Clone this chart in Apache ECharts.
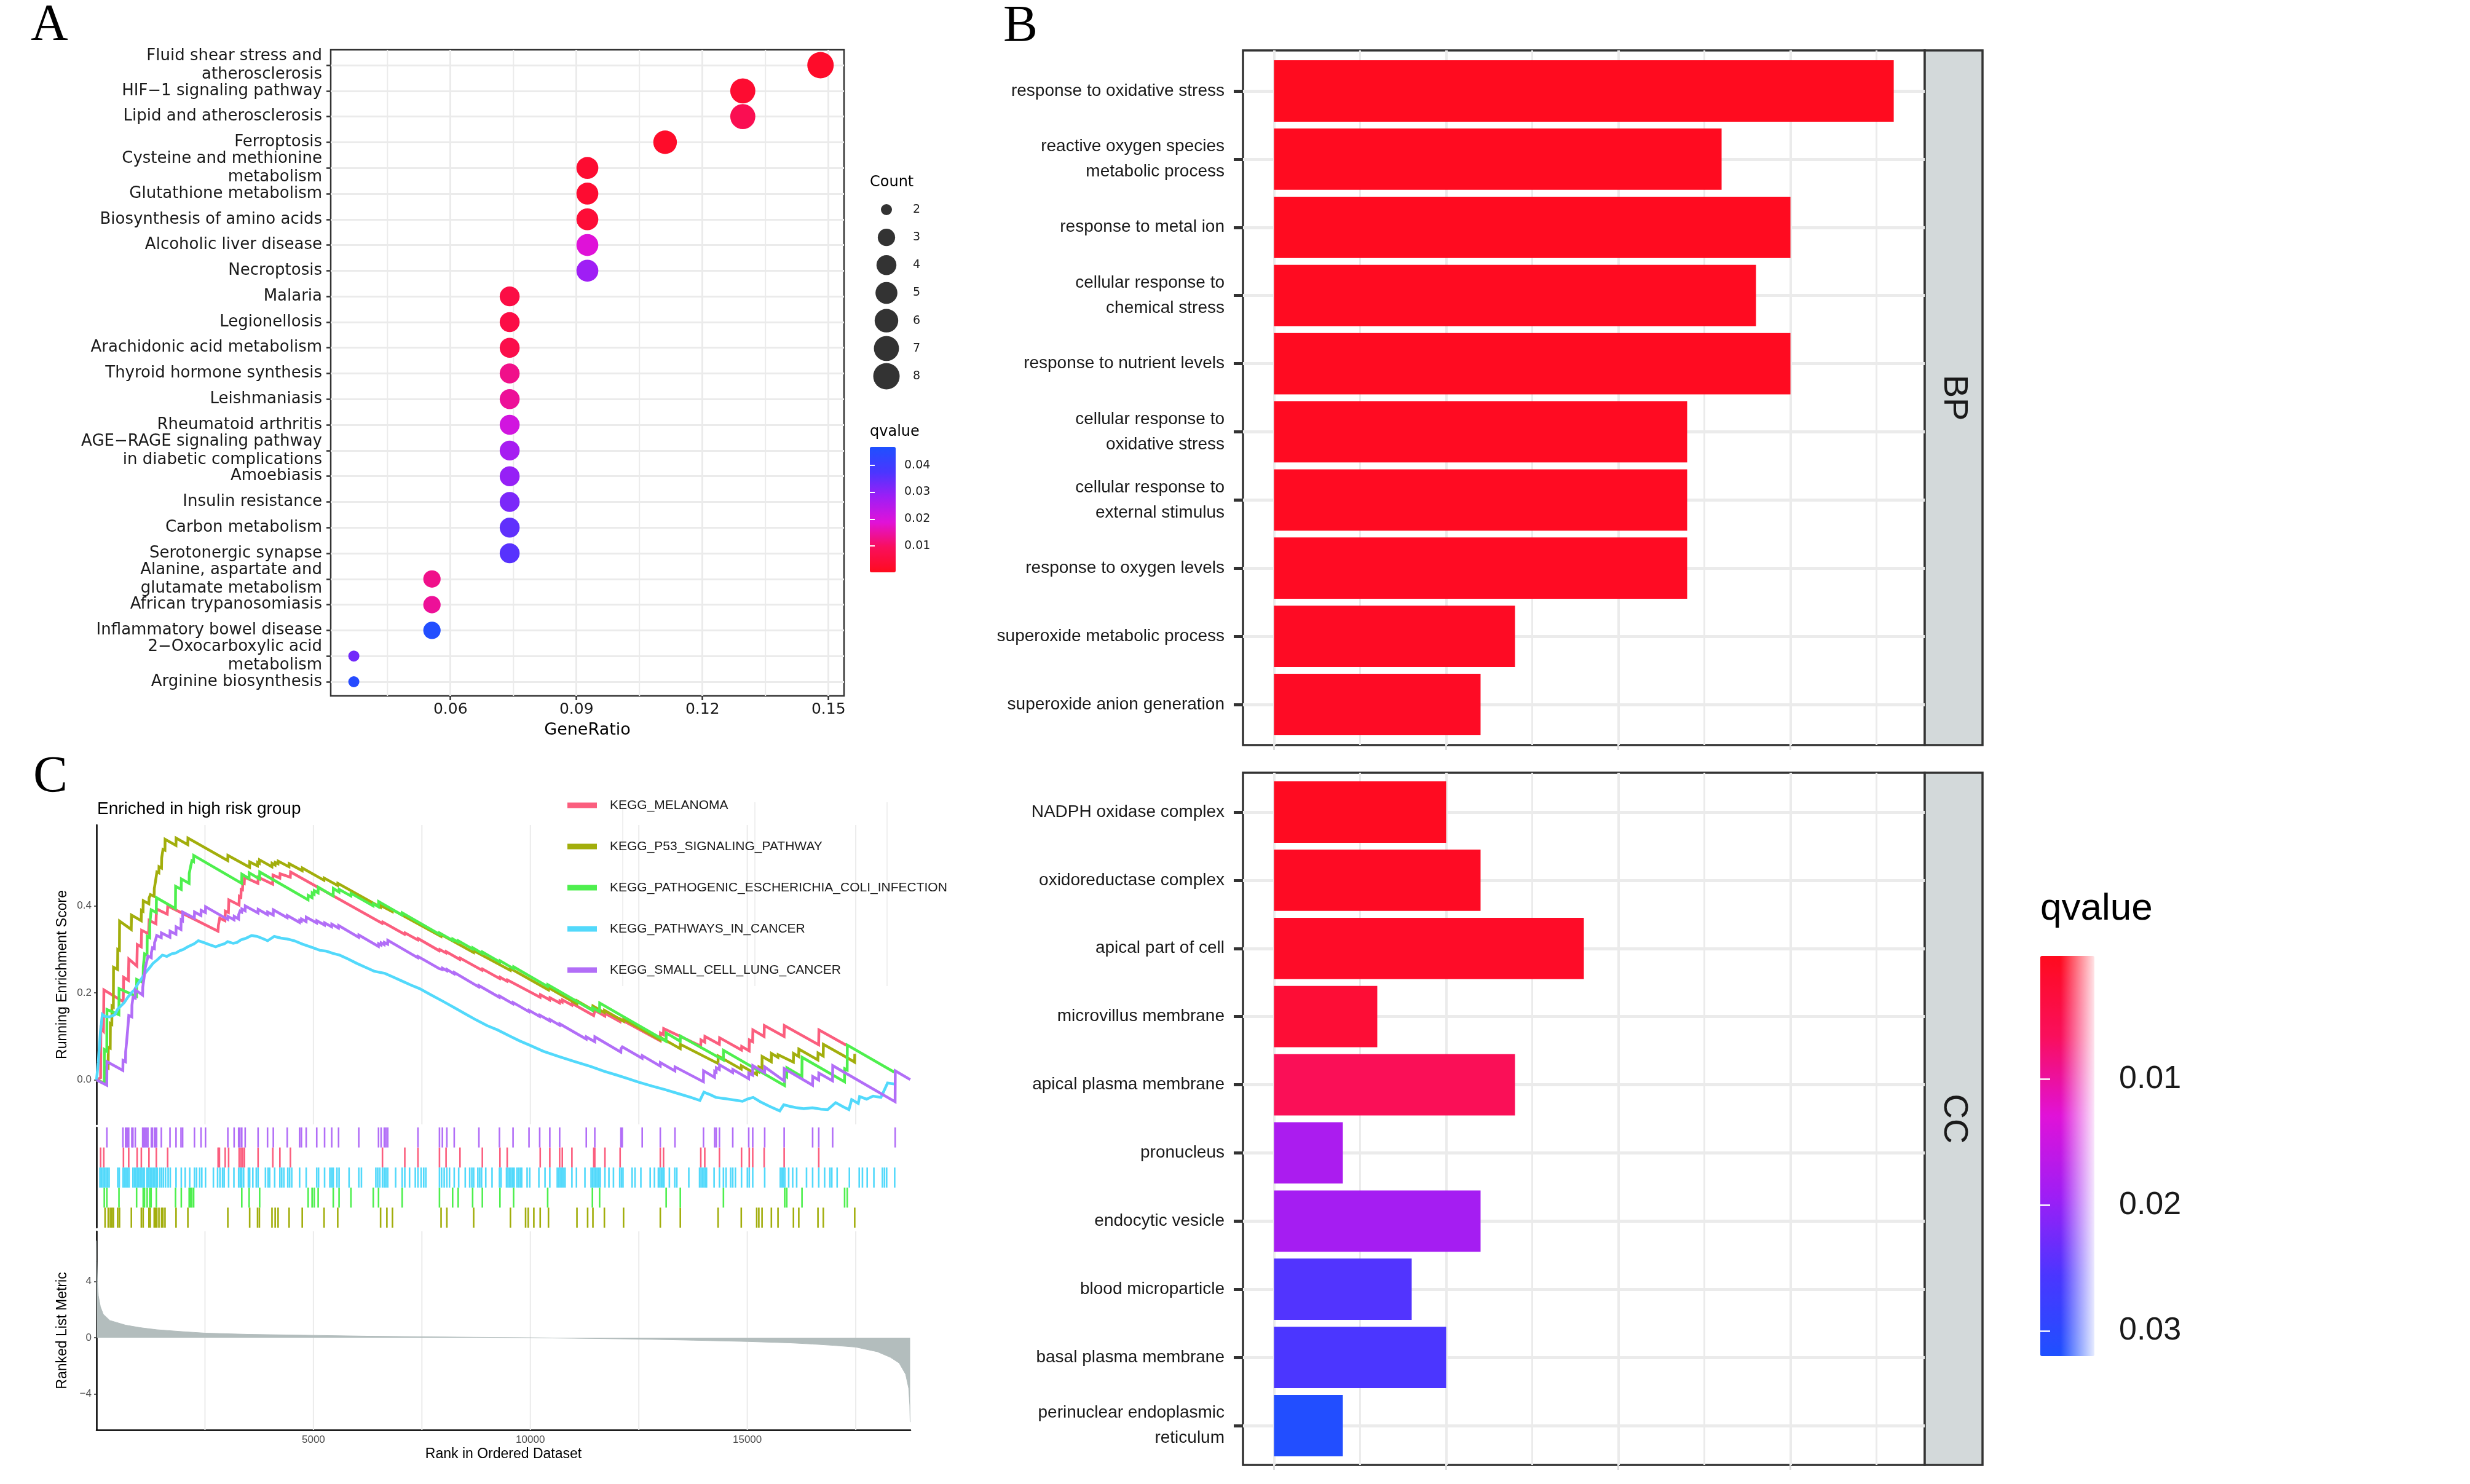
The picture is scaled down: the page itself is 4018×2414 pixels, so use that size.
<!DOCTYPE html>
<html><head><meta charset="utf-8">
<script src="https://cdn.jsdelivr.net/npm/echarts@6/dist/echarts.min.js"></script>
<style>html,body{margin:0;padding:0;background:#fff}#c{width:4018px;height:2414px}</style>
</head><body><div id="c"></div>
<script>
// ---------------- Panel A data (KEGG dot plot) ----------------
const dotTerms = ['Fluid shear stress and\natherosclerosis','HIF−1 signaling pathway','Lipid and atherosclerosis','Ferroptosis','Cysteine and methionine\nmetabolism','Glutathione metabolism','Biosynthesis of amino acids','Alcoholic liver disease','Necroptosis','Malaria','Legionellosis','Arachidonic acid metabolism','Thyroid hormone synthesis','Leishmaniasis','Rheumatoid arthritis','AGE−RAGE signaling pathway\nin diabetic complications','Amoebiasis','Insulin resistance','Carbon metabolism','Serotonergic synapse','Alanine, aspartate and\nglutamate metabolism','African trypanosomiasis','Inflammatory bowel disease','2−Oxocarboxylic acid\nmetabolism','Arginine biosynthesis'];
const dotGeneRatio = [0.1481,0.1296,0.1296,0.1111,0.0926,0.0926,0.0926,0.0926,0.0926,0.0741,0.0741,0.0741,0.0741,0.0741,0.0741,0.0741,0.0741,0.0741,0.0741,0.0741,0.0556,0.0556,0.0556,0.0370,0.0370];
const dotCount = [8,7,7,6,5,5,5,5,5,4,4,4,4,4,4,4,4,4,4,4,3,3,3,2,2];
const dotQvalue = [0.002,0.003,0.008,0.002,0.003,0.003,0.004,0.019,0.028,0.006,0.006,0.007,0.013,0.014,0.021,0.027,0.029,0.032,0.035,0.036,0.013,0.014,0.046,0.033,0.045];
const geneRatioTicks = [0.06,0.09,0.12,0.15];
const geneRatioMinor = [0.045,0.075,0.105,0.135];
const countLevels = [2,3,4,5,6,7,8];
const qTicksA = [0.01,0.02,0.03,0.04];

// ---------------- Panel B data (GO bar plot) ----------------
const bpTerms = ['response to oxidative stress','reactive oxygen species\nmetabolic process','response to metal ion','cellular response to\nchemical stress','response to nutrient levels','cellular response to\noxidative stress','cellular response to\nexternal stimulus','response to oxygen levels','superoxide metabolic process','superoxide anion generation'];
const bpCount = [18,13,15,14,15,12,12,12,7,6];
const bpQvalue = [0.0003,0.0004,0.0004,0.0005,0.0005,0.0006,0.0006,0.0007,0.0008,0.0009];
const ccTerms = ['NADPH oxidase complex','oxidoreductase complex','apical part of cell','microvillus membrane','apical plasma membrane','pronucleus','endocytic vesicle','blood microparticle','basal plasma membrane','perinuclear endoplasmic\nreticulum'];
const ccCount = [5,6,9,3,7,2,6,4,5,2];
const ccQvalue = [0.0005,0.0008,0.0012,0.0027,0.0060,0.0180,0.0186,0.0250,0.0256,0.0314];
const countTicksB = [0,5,10,15];
const countMinorB = [2.5,7.5,12.5,17.5];
const qTicksB = [0.01,0.02,0.03];
const facetNames = ['BP','CC'];

// ---------------- Panel C data (GSEA) ----------------
const gseaSets = ['KEGG_MELANOMA','KEGG_P53_SIGNALING_PATHWAY','KEGG_PATHOGENIC_ESCHERICHIA_COLI_INFECTION','KEGG_PATHWAYS_IN_CANCER','KEGG_SMALL_CELL_LUNG_CANCER'];
const esMelanoma = [[0,0],[94,0.005],[100,0.118],[160,0.112],[170,0.207],[615,0.180],[625,0.236],[735,0.229],[745,0.278],[930,0.262],[940,0.311],[1030,0.306],[1040,0.344],[1200,0.336],[1212,0.367],[1370,0.359],[1382,0.393],[1630,0.381],[1642,0.400],[2800,0.342],[2810,0.356],[2830,0.356],[2840,0.372],[2960,0.366],[2970,0.388],[3040,0.385],[3050,0.414],[3285,0.402],[3292,0.422],[3328,0.420],[3334,0.438],[3365,0.437],[3371,0.452],[3405,0.451],[3412,0.466],[3720,0.452],[3728,0.466],[4060,0.450],[4068,0.471],[4225,0.464],[4232,0.474],[4466,0.466],[4474,0.478],[6585,0.360],[6595,0.363],[7100,0.335],[7110,0.338],[7405,0.322],[7413,0.325],[7900,0.297],[7910,0.300],[8055,0.292],[8060,0.295],[8375,0.277],[8383,0.280],[8890,0.252],[8898,0.255],[9295,0.233],[9303,0.236],[9462,0.227],[9470,0.230],[10225,0.190],[10232,0.196],[10446,0.184],[10452,0.189],[10673,0.177],[10680,0.182],[10734,0.179],[10740,0.184],[10956,0.172],[10962,0.176],[11459,0.148],[11487,0.160],[11717,0.147],[11723,0.153],[12067,0.134],[12073,0.140],[12993,0.090],[12999,0.108],[13067,0.104],[13073,0.118],[13926,0.078],[13932,0.092],[14018,0.087],[14024,0.100],[14356,0.082],[14362,0.097],[14865,0.069],[14871,0.077],[15043,0.067],[15049,0.092],[15123,0.088],[15129,0.115],[15387,0.100],[15393,0.125],[15848,0.100],[15854,0.125],[16645,0.081],[16651,0.115],[17282,0.080]];
const esP53 = [[0,0],[195,-0.007],[200,0.03],[268,0.027],[272,0.075],[316,0.073],[320,0.13],[353,0.128],[357,0.17],[388,0.168],[392,0.259],[486,0.254],[490,0.30],[528,0.298],[532,0.365],[800,0.346],[806,0.379],[1030,0.366],[1036,0.39],[1072,0.388],[1078,0.412],[1206,0.405],[1212,0.418],[1236,0.417],[1242,0.426],[1328,0.422],[1332,0.440],[1358,0.439],[1362,0.458],[1388,0.457],[1392,0.478],[1437,0.476],[1441,0.49],[1498,0.487],[1502,0.51],[1528,0.509],[1532,0.53],[1577,0.528],[1581,0.553],[1831,0.539],[1835,0.556],[2104,0.541],[2108,0.556],[3025,0.504],[3029,0.516],[3528,0.489],[3532,0.501],[3710,0.492],[3714,0.500],[3752,0.498],[3756,0.506],[4043,0.490],[4047,0.498],[4116,0.494],[4120,0.500],[4183,0.497],[4187,0.503],[4437,0.490],[4441,0.497],[4740,0.481],[4744,0.487],[5243,0.459],[5247,0.464],[5558,0.447],[5562,0.452],[6546,0.397],[6550,0.401],[6819,0.387],[6823,0.391],[7940,0.330],[7944,0.334],[8691,0.293],[8695,0.297],[9538,0.252],[9542,0.256],[10417,0.207],[10421,0.212],[11072,0.175],[11076,0.182],[11440,0.161],[11444,0.170],[11704,0.155],[11708,0.160],[12146,0.135],[12150,0.140],[12993,0.092],[12997,0.098],[13454,0.072],[13458,0.082],[14325,0.038],[14329,0.055],[14859,0.025],[14863,0.033],[15215,0.013],[15219,0.022],[15264,0.019],[15268,0.030],[15338,0.026],[15342,0.054],[15553,0.042],[15557,0.061],[15706,0.052],[15710,0.058],[16062,0.041],[16066,0.061],[16185,0.054],[16189,0.071],[16627,0.046],[16631,0.062],[16750,0.055],[16754,0.082],[17250,0.054],[17474,0.041],[17478,0.060]];
const esPathogenic = [[0,0],[177,-0.008],[181,0.07],[237,0.066],[241,0.162],[516,0.150],[520,0.210],[922,0.192],[926,0.231],[1074,0.224],[1078,0.26],[1104,0.259],[1108,0.29],[1165,0.287],[1169,0.33],[1225,0.327],[1229,0.36],[1256,0.359],[1260,0.391],[1377,0.385],[1381,0.419],[1819,0.394],[1823,0.445],[1952,0.438],[1956,0.462],[2134,0.452],[2138,0.475],[2164,0.474],[2168,0.49],[2195,0.488],[2199,0.504],[2237,0.502],[2241,0.516],[3346,0.452],[3350,0.473],[3516,0.463],[3520,0.476],[3758,0.462],[3762,0.478],[4876,0.414],[4880,0.424],[4967,0.419],[4971,0.430],[5016,0.427],[5020,0.435],[5107,0.430],[5111,0.443],[5455,0.423],[5459,0.440],[5589,0.432],[5593,0.438],[5862,0.423],[5866,0.429],[6377,0.400],[6381,0.405],[6498,0.398],[6502,0.410],[7043,0.379],[7047,0.384],[7903,0.335],[7907,0.338],[8206,0.321],[8210,0.324],[8334,0.317],[8338,0.320],[8667,0.301],[8671,0.304],[8891,0.291],[8895,0.294],[9297,0.271],[9301,0.274],[9611,0.256],[9615,0.260],[10397,0.215],[10401,0.219],[11428,0.160],[11432,0.166],[11594,0.157],[11598,0.177],[13128,0.089],[13132,0.108],[13454,0.089],[13458,0.101],[14448,0.046],[14452,0.068],[15860,-0.013],[15864,0.010],[15908,0.007],[15912,0.028],[16259,0.008],[16263,0.052],[17241,-0.004],[17245,0.026],[17302,0.023],[17306,0.080],[18386,0.018]];
const esPathways = [[0,0],[40,0.04],[90,0.11],[135,0.151],[200,0.146],[300,0.145],[420,0.15],[490,0.163],[560,0.17],[640,0.178],[720,0.19],[800,0.2],[872,0.207],[960,0.222],[1050,0.235],[1118,0.245],[1200,0.255],[1302,0.268],[1400,0.276],[1517,0.287],[1620,0.284],[1732,0.290],[1830,0.292],[1917,0.297],[2000,0.30],[2101,0.306],[2250,0.313],[2347,0.320],[2470,0.316],[2600,0.311],[2746,0.306],[2850,0.31],[2950,0.313],[3022,0.318],[3150,0.314],[3237,0.316],[3330,0.322],[3450,0.326],[3575,0.332],[3700,0.33],[3830,0.325],[3944,0.320],[4097,0.330],[4250,0.326],[4400,0.324],[4558,0.320],[4750,0.312],[4988,0.304],[5150,0.298],[5300,0.296],[5450,0.291],[5603,0.287],[5800,0.278],[6000,0.268],[6200,0.259],[6401,0.250],[6647,0.245],[6850,0.236],[7050,0.227],[7250,0.218],[7445,0.210],[7700,0.196],[8000,0.180],[8250,0.166],[8500,0.152],[8750,0.138],[9000,0.125],[9245,0.115],[9522,0.101],[9750,0.09],[9982,0.080],[10300,0.066],[10656,0.054],[11000,0.043],[11393,0.031],[11700,0.02],[12000,0.011],[12250,0.003],[12497,-0.005],[12800,-0.014],[13100,-0.022],[13400,-0.031],[13700,-0.040],[13908,-0.047],[14000,-0.028],[14150,-0.034],[14276,-0.040],[14500,-0.043],[14700,-0.046],[14890,-0.049],[15000,-0.044],[15135,-0.040],[15300,-0.05],[15500,-0.06],[15748,-0.071],[15840,-0.057],[16000,-0.061],[16150,-0.064],[16300,-0.066],[16500,-0.064],[16700,-0.067],[16853,-0.068],[17037,-0.052],[17200,-0.061],[17343,-0.068],[17405,-0.045],[17558,-0.054],[17589,-0.038],[17750,-0.044],[17900,-0.037],[18080,-0.040],[18150,-0.025],[18233,-0.007],[18386,-0.009]];
const esSmallCell = [[0,0],[237,-0.012],[241,0.042],[607,0.022],[611,0.045],[668,0.042],[672,0.065],[692,0.064],[696,0.09],[716,0.089],[720,0.118],[740,0.117],[744,0.148],[813,0.145],[817,0.172],[837,0.171],[841,0.19],[892,0.188],[896,0.207],[1062,0.195],[1066,0.213],[1092,0.212],[1096,0.235],[1122,0.234],[1126,0.259],[1153,0.258],[1157,0.272],[1183,0.271],[1187,0.285],[1262,0.281],[1266,0.293],[1286,0.292],[1290,0.304],[1334,0.302],[1338,0.316],[1358,0.315],[1362,0.322],[1383,0.321],[1387,0.332],[1492,0.327],[1496,0.338],[1692,0.328],[1696,0.342],[1831,0.335],[1835,0.352],[1946,0.346],[1950,0.368],[1983,0.366],[1987,0.386],[2255,0.372],[2259,0.386],[2407,0.378],[2411,0.390],[2510,0.385],[2514,0.398],[3025,0.369],[3029,0.376],[3170,0.368],[3174,0.376],[3274,0.370],[3278,0.380],[3304,0.379],[3308,0.388],[3346,0.386],[3350,0.393],[3425,0.389],[3429,0.400],[3722,0.384],[3726,0.392],[3940,0.380],[3944,0.386],[4073,0.379],[4077,0.391],[4394,0.373],[4398,0.378],[4679,0.362],[4683,0.367],[4721,0.365],[4725,0.370],[4831,0.364],[4835,0.374],[5074,0.361],[5078,0.366],[5255,0.356],[5259,0.361],[5419,0.352],[5423,0.358],[5577,0.349],[5581,0.355],[6043,0.328],[6047,0.333],[6498,0.307],[6502,0.313],[6558,0.310],[6562,0.315],[6631,0.311],[6635,0.316],[6710,0.312],[6714,0.321],[7405,0.281],[7409,0.284],[7901,0.256],[7905,0.258],[7970,0.254],[7974,0.257],[8073,0.251],[8077,0.254],[8243,0.244],[8247,0.247],[8810,0.214],[8814,0.217],[9285,0.190],[9289,0.193],[9599,0.175],[9603,0.178],[9967,0.157],[9971,0.160],[10213,0.146],[10217,0.149],[10446,0.136],[10450,0.139],[10673,0.126],[10677,0.129],[11287,0.094],[11291,0.099],[11483,0.088],[11487,0.099],[12085,0.064],[12089,0.072],[12116,0.070],[12120,0.076],[12576,0.050],[12580,0.056],[12993,0.032],[12997,0.040],[13331,0.021],[13335,0.030],[13988,-0.004],[13992,0.021],[14245,0.006],[14249,0.020],[14282,0.018],[14286,0.028],[14356,0.024],[14360,0.035],[14663,0.017],[14667,0.024],[15031,0.003],[15035,0.016],[15123,0.011],[15127,0.033],[15399,0.017],[15403,0.030],[15848,-0.002],[15852,0.026],[16504,-0.012],[16508,0.008],[16645,0.000],[16649,0.016],[16965,-0.002],[16969,0.033],[18407,-0.050],[18411,0.021],[18755,0.001]];
const hitsMelanoma = [94,167,621,742,936,1033,1209,1379,1639,2803,2833,2966,3045,3288,3330,3367,3409,3724,4063,4227,4469,6591,7106,7409,7905,8057,8378,8893,9299,9466,10227,10448,10675,10736,10958,11461,11485,11719,12069,12995,13069,13928,14020,14358,14867,15045,15125,15389,15850,16647];
const hitsP53 = [197,270,318,355,390,488,530,803,1033,1075,1209,1239,1330,1360,1390,1439,1500,1530,1579,1833,2106,3027,3530,3712,3754,4045,4118,4185,4439,4742,5245,5560,6548,6693,6821,7942,8075,8693,9540,9890,9951,10080,10227,10417,11074,11320,11442,11706,12148,12995,13456,14327,14861,15217,15266,15340,15555,15708,16064,16187,16629,16752,17476];
const hitsPathogenic = [179,239,518,924,1076,1106,1167,1227,1258,1379,1821,1954,2136,2166,2197,2239,3348,3518,3760,4878,4969,5018,5109,5457,5591,5864,6379,6500,7045,7905,8208,8336,8669,8893,9299,9613,10399,11430,11596,13130,13456,14450,15862,15910,16261,17243,17304];
const hitsPathways = [80,115,150,185,220,255,290,490,525,612,645,680,715,750,840,875,910,945,980,1015,1050,1085,1100,1160,1195,1230,1265,1300,1335,1370,1400,1458,1500,1543,1591,1651,1700,1833,1954,2045,2148,2257,2306,2378,2427,2512,2694,2791,2845,2906,2942,3045,3167,3276,3312,3348,3391,3500,3530,3603,3682,3724,3894,3954,3991,4106,4227,4269,4318,4409,4451,4500,4681,4833,5076,5118,5257,5379,5421,5457,5542,5591,5821,6045,6106,6439,6482,6530,6591,6633,6669,6712,6894,7045,7106,7215,7348,7409,7482,7542,7591,7905,7954,8014,8075,8136,8245,8348,8499,8602,8651,8693,8790,8833,8875,8972,9117,9287,9325,9450,9485,9520,9555,9590,9625,9690,9730,9770,9800,9925,9985,10196,10338,10448,10620,10655,10690,10725,10760,10800,10958,11062,11258,11400,11435,11470,11505,11540,11575,11610,11719,11811,11915,12060,12100,12135,12345,12412,12547,12762,12860,12950,12985,13020,13055,13080,13204,13327,13376,13652,13900,13935,13970,14005,14040,14060,14235,14358,14450,14511,14616,14665,14726,14867,15002,15045,15125,15401,15760,15795,15830,15865,15954,16046,16138,16365,16506,16647,16782,16905,16948,17071,17353,17580,17654,17764,17918,18114,18163,18212,18397];
const hitsSmallCell = [239,609,670,694,718,742,815,839,894,1064,1094,1124,1155,1185,1264,1288,1336,1360,1385,1494,1694,1833,1948,1985,2257,2409,2512,3027,3172,3276,3306,3348,3427,3724,3942,4075,4396,4681,4723,4833,5076,5257,5421,5579,6045,6500,6560,6633,6669,6712,7409,7905,7972,8075,8245,8814,9287,9601,9969,10215,10448,10675,11289,11485,12087,12118,12578,12995,13333,13990,14247,14284,14358,14665,15033,15125,15401,15850,16506,16647,16967,18409];
const rankedMetric = [[0,6.9],[8,5.4],[20,4.0],[42,3.0],[90,2.2],[156,1.67],[306,1.23],[668,0.9],[1000,0.72],[1390,0.57],[2000,0.43],[2500,0.33],[3500,0.24],[5000,0.17],[6250,0.11],[7500,0.07],[8750,0.03],[10000,0.0],[11250,-0.05],[12500,-0.1],[13750,-0.18],[15000,-0.27],[16000,-0.37],[16500,-0.45],[17000,-0.55],[17500,-0.67],[18000,-1.0],[18300,-1.4],[18500,-1.8],[18650,-2.6],[18720,-3.6],[18745,-4.8],[18753,-6.0]];
const rankTicks = [5000,10000,15000];
const rankGrid = [2500,5000,7500,10000,12500,15000,17500];
const esTicks = [0,0.2,0.4];
const metricTicks = [-4,0,4];

// ---------------- styles ----------------
const FA = 'DejaVu Sans, Liberation Sans, sans-serif';
const FB = 'Liberation Sans, Arial, sans-serif';
const FC = 'Liberation Sans, Arial, Helvetica, sans-serif';
const GRID_COL = '#EBEBEB';
const qColors = ['#FF0B1E','#F90F5C','#E012D8','#9E1EF5','#4A36FF','#1E50FF'];
const setColors = ['#FB5E7E','#A2AE0C','#4EEF4E','#52D9FB','#B26EF7'];
const hitRowOrder = [1,4,3,2,0]; // row (top->bottom) of each gene set's barcode
const sizeFor = c => 18 + 25 * Math.sqrt((c - 2) / 6);

function vGrid(color, width) {
  return function (params, api) {
    const p = api.coord([api.value(0), api.value(1)]);
    const cs = params.coordSys;
    return {type: 'line', shape: {x1: p[0], y1: cs.y, x2: p[0], y2: cs.y + cs.height},
            style: {stroke: color, lineWidth: width}, silent: true};
  };
}
function hitRender(color) {
  return function (params, api) {
    const p1 = api.coord([api.value(0), api.value(1)]);
    const p2 = api.coord([api.value(0), api.value(1) + 1]);
    return {type: 'line', shape: {x1: p1[0], y1: p1[1], x2: p2[0], y2: p2[1]},
            style: {stroke: color, lineWidth: 2.6}};
  };
}
const noGrid = {outerBoundsMode: 'none', containLabel: false};
const hidden = (min, max) => ({type: 'value', min, max, show: false, splitLine: {show: false}});

const grids = [
  Object.assign({left: 538, top: 81, width: 835, height: 1051, show: true, borderColor: '#333', borderWidth: 2.5, backgroundColor: 'transparent'}, noGrid), //0 A frame
  Object.assign({left: 538, top: 106, width: 835, height: 1003}, noGrid), //1 A dots
  Object.assign({left: 1420, top: 341, width: 44, height: 271}, noGrid), //2 count legend
  Object.assign({left: 1415, top: 727, width: 42, height: 204}, noGrid), //3 q legend A
  Object.assign({left: 2022, top: 82, width: 1109, height: 1130, show: true, borderColor: '#333', borderWidth: 3.5, backgroundColor: 'transparent'}, noGrid), //4 BP frame
  Object.assign({left: 2022, top: 148, width: 1109, height: 998}, noGrid), //5 BP bars
  Object.assign({left: 3131, top: 82, width: 94, height: 1130, show: true, borderColor: '#333', borderWidth: 3.5, backgroundColor: '#D3D9DA'}, noGrid), //6 BP strip
  Object.assign({left: 2022, top: 1257, width: 1109, height: 1126, show: true, borderColor: '#333', borderWidth: 3.5, backgroundColor: 'transparent'}, noGrid), //7 CC frame
  Object.assign({left: 2022, top: 1321, width: 1109, height: 998}, noGrid), //8 CC bars
  Object.assign({left: 3131, top: 1257, width: 94, height: 1126, show: true, borderColor: '#333', borderWidth: 3.5, backgroundColor: '#D3D9DA'}, noGrid), //9 CC strip
  Object.assign({left: 3319, top: 1555, width: 88, height: 651}, noGrid), //10 q legend B
  Object.assign({left: 157, top: 1342, width: 1324, height: 487}, noGrid), //11 ES
  Object.assign({left: 157, top: 1834, width: 1324, height: 163}, noGrid), //12 hits
  Object.assign({left: 157, top: 2003, width: 1324, height: 323}, noGrid)  //13 metric
];

const RMAX = 18760;
const xAxes = [
  {gridIndex: 0, type: 'value', min: 0.0315, max: 0.1537, splitNumber: 4,
   axisLine: {show: false, onZero: false},
   axisTick: {show: true, length: 7, lineStyle: {color: '#333', width: 2.5}, customValues: geneRatioTicks},
   axisLabel: {fontFamily: FA, fontSize: 25, color: '#1A1A1A', margin: 10, customValues: geneRatioTicks, formatter: v => v.toFixed(2)},
   splitLine: {show: true, lineStyle: {color: GRID_COL, width: 3}},
   name: 'GeneRatio', nameLocation: 'middle', nameGap: 42, nameMoveOverlap: false,
   nameTextStyle: {fontFamily: FA, fontSize: 27, color: '#000'}},
  Object.assign({gridIndex: 1}, hidden(0.0315, 0.1537)),
  Object.assign({gridIndex: 2}, hidden(0, 1)),
  Object.assign({gridIndex: 3}, hidden(0, 1)),
  {gridIndex: 4, type: 'value', min: -0.9, max: 18.9, splitNumber: 4,
   axisLine: {show: false, onZero: false},
   axisTick: {show: true, length: 8, lineStyle: {color: '#DDDDDD', width: 3}, customValues: countTicksB},
   axisLabel: {show: false},
   splitLine: {show: true, lineStyle: {color: GRID_COL, width: 4}}},
  Object.assign({gridIndex: 5}, hidden(-0.9, 18.9)),
  Object.assign({gridIndex: 6}, hidden(0, 1)),
  {gridIndex: 7, type: 'value', min: -0.9, max: 18.9, splitNumber: 4,
   axisLine: {show: false, onZero: false},
   axisTick: {show: true, length: 8, lineStyle: {color: '#DDDDDD', width: 3}, customValues: countTicksB},
   axisLabel: {show: false},
   splitLine: {show: true, lineStyle: {color: GRID_COL, width: 4}}},
  Object.assign({gridIndex: 8}, hidden(-0.9, 18.9)),
  Object.assign({gridIndex: 9}, hidden(0, 1)),
  Object.assign({gridIndex: 10}, hidden(0, 1)),
  Object.assign({gridIndex: 11}, hidden(0, RMAX)),
  Object.assign({gridIndex: 12}, hidden(0, RMAX)),
  {gridIndex: 13, type: 'value', min: 0, max: RMAX, interval: 2500,
   axisLine: {show: true, onZero: false, lineStyle: {color: '#000', width: 2.5}},
   axisTick: {show: false},
   axisLabel: {fontFamily: FC, fontSize: 17, color: '#4D4D4D', margin: 8, customValues: rankTicks,
               formatter: v => (v > 0 && v % 5000 === 0) ? String(v) : ''},
   splitLine: {show: false},
   name: 'Rank in Ordered Dataset', nameLocation: 'middle', nameGap: 28, nameMoveOverlap: false,
   nameTextStyle: {fontFamily: FC, fontSize: 23, color: '#000'}}
];

const yAxes = [
  Object.assign({gridIndex: 0}, hidden(0, 1)),
  {gridIndex: 1, type: 'category', data: dotTerms, inverse: true, boundaryGap: false,
   axisLine: {show: false, onZero: false},
   axisTick: {show: true, interval: 0, length: 7, lineStyle: {color: '#333', width: 2.5}},
   axisLabel: {interval: 0, fontFamily: FA, fontSize: 26, lineHeight: 30, color: '#1A1A1A', margin: 14},
   splitLine: {show: true, interval: 0, lineStyle: {color: GRID_COL, width: 3}}},
  {gridIndex: 2, type: 'category', data: countLevels.map(String), inverse: true, boundaryGap: false, position: 'right',
   axisLine: {show: false}, axisTick: {show: false},
   axisLabel: {interval: 0, fontFamily: FA, fontSize: 19, color: '#1A1A1A', margin: 21},
   splitLine: {show: false}},
  {gridIndex: 3, type: 'value', min: 0.0002, max: 0.0468, splitNumber: 4, position: 'right', z: 10,
   axisLine: {show: false},
   axisTick: {show: true, inside: true, length: 8, lineStyle: {color: '#FFFFFF', width: 2}, customValues: qTicksA},
   axisLabel: {fontFamily: FA, fontSize: 19, color: '#1A1A1A', margin: 14, customValues: qTicksA, formatter: v => v.toFixed(2)},
   splitLine: {show: false}},
  Object.assign({gridIndex: 4}, hidden(0, 1)),
  {gridIndex: 5, type: 'category', data: bpTerms, inverse: true, boundaryGap: false,
   axisLine: {show: false, onZero: false},
   axisTick: {show: true, interval: 0, length: 15, lineStyle: {color: '#333', width: 5}},
   axisLabel: {interval: 0, fontFamily: FB, fontSize: 28, lineHeight: 41, color: '#1A1A1A', margin: 30},
   splitLine: {show: true, interval: 0, lineStyle: {color: GRID_COL, width: 5}}},
  Object.assign({gridIndex: 6}, hidden(0, 1)),
  Object.assign({gridIndex: 7}, hidden(0, 1)),
  {gridIndex: 8, type: 'category', data: ccTerms, inverse: true, boundaryGap: false,
   axisLine: {show: false, onZero: false},
   axisTick: {show: true, interval: 0, length: 15, lineStyle: {color: '#333', width: 5}},
   axisLabel: {interval: 0, fontFamily: FB, fontSize: 28, lineHeight: 41, color: '#1A1A1A', margin: 30},
   splitLine: {show: true, interval: 0, lineStyle: {color: GRID_COL, width: 5}}},
  Object.assign({gridIndex: 9}, hidden(0, 1)),
  {gridIndex: 10, type: 'value', min: 0.0002, max: 0.032, inverse: true, splitNumber: 3, position: 'right', z: 10,
   axisLine: {show: false},
   axisTick: {show: true, inside: true, length: 16, lineStyle: {color: '#FFFFFF', width: 2.5}, customValues: qTicksB},
   axisLabel: {fontFamily: FB, fontSize: 52, color: '#1A1A1A', margin: 40, customValues: qTicksB, formatter: v => v.toFixed(2)},
   splitLine: {show: false}},
  {gridIndex: 11, type: 'value', min: -0.102, max: 0.586, splitNumber: 3,
   axisLine: {show: true, onZero: false, lineStyle: {color: '#000', width: 2.5}},
   axisTick: {show: true, length: 4, lineStyle: {color: '#333', width: 1.5}, customValues: esTicks},
   axisLabel: {fontFamily: FC, fontSize: 17, color: '#4D4D4D', margin: 8, customValues: esTicks, formatter: v => v.toFixed(1)},
   splitLine: {show: false},
   name: 'Running Enrichment Score', nameLocation: 'middle', nameGap: 44, nameMoveOverlap: false,
   nameTextStyle: {fontFamily: FC, fontSize: 23, color: '#000'}},
  {gridIndex: 12, type: 'value', min: 0, max: 5, inverse: true,
   axisLine: {show: true, onZero: false, lineStyle: {color: '#000', width: 2.5}},
   axisTick: {show: false}, axisLabel: {show: false}, splitLine: {show: false}},
  {gridIndex: 13, type: 'value', min: -6.56, max: 7.57, splitNumber: 3,
   axisLine: {show: true, onZero: false, lineStyle: {color: '#000', width: 2.5}},
   axisTick: {show: true, length: 4, lineStyle: {color: '#333', width: 1.5}, customValues: metricTicks},
   axisLabel: {fontFamily: FC, fontSize: 17, color: '#4D4D4D', margin: 8, customValues: metricTicks,
               formatter: v => v < 0 ? '−' + Math.abs(v) : String(v)},
   splitLine: {show: false},
   name: 'Ranked List Metric', nameLocation: 'middle', nameGap: 44, nameMoveOverlap: false,
   nameTextStyle: {fontFamily: FC, fontSize: 23, color: '#000'}},
  // extra left-side white ticks on the colour bars
  {gridIndex: 3, type: 'value', min: 0.0002, max: 0.0468, splitNumber: 4, position: 'left', z: 10,
   axisLine: {show: false}, axisLabel: {show: false}, splitLine: {show: false},
   axisTick: {show: true, inside: true, length: 8, lineStyle: {color: '#FFFFFF', width: 2}, customValues: qTicksA}},
  {gridIndex: 10, type: 'value', min: 0.0002, max: 0.032, inverse: true, splitNumber: 3, position: 'left', z: 10,
   axisLine: {show: false}, axisLabel: {show: false}, splitLine: {show: false},
   axisTick: {show: true, inside: true, length: 16, lineStyle: {color: '#FFFFFF', width: 2.5}, customValues: qTicksB}}
];

const series = [
  {type: 'custom', name: 'minorA', xAxisIndex: 0, yAxisIndex: 0, z: 1, silent: true,
   data: geneRatioMinor.map(v => [v, 0]), encode: {x: 0, y: 1}, renderItem: vGrid(GRID_COL, 2)},
  {type: 'scatter', name: 'dots', xAxisIndex: 1, yAxisIndex: 1, z: 3, clip: false,
   data: dotTerms.map((t, i) => [dotGeneRatio[i], i, dotQvalue[i], dotCount[i]]),
   encode: {x: 0, y: 1}, symbolSize: v => sizeFor(v[3]), itemStyle: {opacity: 1}},
  {type: 'scatter', name: 'countKey', xAxisIndex: 2, yAxisIndex: 2, z: 3, clip: false,
   data: countLevels.map((c, i) => [0.5, i, c]), encode: {x: 0, y: 1},
   symbolSize: v => sizeFor(v[2]), itemStyle: {color: '#000'}},
  {type: 'custom', name: 'minorBP', xAxisIndex: 4, yAxisIndex: 4, z: 1, silent: true,
   data: countMinorB.map(v => [v, 0]), encode: {x: 0, y: 1}, renderItem: vGrid(GRID_COL, 3)},
  {type: 'bar', name: 'BP', xAxisIndex: 5, yAxisIndex: 5, z: 3, clip: false, barCategoryGap: '10%',
   data: bpTerms.map((t, i) => [bpCount[i], i, bpQvalue[i]]), encode: {x: 0, y: 1}},
  {type: 'custom', name: 'minorCC', xAxisIndex: 7, yAxisIndex: 7, z: 1, silent: true,
   data: countMinorB.map(v => [v, 0]), encode: {x: 0, y: 1}, renderItem: vGrid(GRID_COL, 3)},
  {type: 'bar', name: 'CC', xAxisIndex: 8, yAxisIndex: 8, z: 3, clip: false, barCategoryGap: '10%',
   data: ccTerms.map((t, i) => [ccCount[i], i, ccQvalue[i]]), encode: {x: 0, y: 1}},
  {type: 'custom', name: 'gridES', xAxisIndex: 11, yAxisIndex: 11, z: 1, silent: true,
   data: rankGrid.map(v => [v, 0]), encode: {x: 0, y: 1}, renderItem: vGrid(GRID_COL, 2)}
];
[esMelanoma, esP53, esPathogenic, esPathways, esSmallCell].forEach((d, i) => {
  series.push({type: 'line', name: gseaSets[i], xAxisIndex: 11, yAxisIndex: 11, z: 3, data: d,
    symbol: 'none', showSymbol: false, lineStyle: {color: setColors[i], width: 4.5, join: 'miter'},
    itemStyle: {color: setColors[i]}});
});
[hitsMelanoma, hitsP53, hitsPathogenic, hitsPathways, hitsSmallCell].forEach((h, i) => {
  series.push({type: 'custom', name: 'hits' + i, xAxisIndex: 12, yAxisIndex: 12, z: 3, silent: true,
    data: h.map(r => [r, hitRowOrder[i]]), encode: {x: 0, y: 1}, renderItem: hitRender(setColors[i])});
});
series.push({type: 'custom', name: 'gridMetric', xAxisIndex: 13, yAxisIndex: 13, z: 1, silent: true,
  data: rankGrid.map(v => [v, 0]), encode: {x: 0, y: 1}, renderItem: vGrid(GRID_COL, 2)});
series.push({type: 'line', name: 'metric', xAxisIndex: 13, yAxisIndex: 13, z: 2, data: rankedMetric,
  symbol: 'none', showSymbol: false, lineStyle: {color: '#B3BDBD', width: 1},
  areaStyle: {color: '#B3BDBD', opacity: 1}});

const option = {
  animation: false,
  backgroundColor: '#FFFFFF',
  textStyle: {fontFamily: FC},
  grid: grids,
  xAxis: xAxes,
  yAxis: yAxes,
  visualMap: [
    {type: 'continuous', seriesIndex: [1], dimension: 2, min: 0.0002, max: 0.0468, inRange: {color: qColors},
     calculable: false, orient: 'vertical', left: 1415, top: 727, itemWidth: 42, itemHeight: 204, padding: 0, hoverLink: false},
    {type: 'continuous', seriesIndex: [4, 6], dimension: 2, min: 0.0002, max: 0.032, inRange: {color: qColors}, inverse: true,
     calculable: false, orient: 'vertical', left: 3319, top: 1555, itemWidth: 88, itemHeight: 651, padding: 0, hoverLink: false}
  ],
  legend: {data: gseaSets, orient: 'vertical', left: 923, top: 1299, padding: 0, itemWidth: 48, itemHeight: 9,
    itemGap: 45, icon: 'rect', selectedMode: false,
    textStyle: {fontFamily: FC, fontSize: 21, lineHeight: 22, color: '#1A1A1A', padding: [0, 0, 0, 16]}},
  series: series,
  graphic: {elements: [
    {type: 'rect', z: 1, shape: {x: 885, y: 1290, width: 610, height: 314}, style: {fill: '#FFFFFF'}, silent: true},
    {type: 'line', z: 1, shape: {x1: 1013, y1: 1305, x2: 1013, y2: 1604}, style: {stroke: '#F0F0F0', lineWidth: 2}},
    {type: 'line', z: 1, shape: {x1: 1228, y1: 1305, x2: 1228, y2: 1604}, style: {stroke: '#F0F0F0', lineWidth: 2}},
    {type: 'line', z: 1, shape: {x1: 1443, y1: 1305, x2: 1443, y2: 1604}, style: {stroke: '#F0F0F0', lineWidth: 2}},
    {type: 'rect', z: 30, shape: {x: 3352, y: 1553, width: 60, height: 655}, silent: true,
     style: {fill: new echarts.graphic.LinearGradient(0, 0, 1, 0, [{offset: 0, color: 'rgba(255,255,255,0)'}, {offset: 1, color: 'rgba(255,255,255,0.97)'}])}},
    {type: 'text', z: 30, x: 50, y: 43, style: {text: 'A', font: '84px Liberation Serif, serif', fill: '#000', textAlign: 'left', textVerticalAlign: 'middle'}},
    {type: 'text', z: 30, x: 1632, y: 45, style: {text: 'B', font: '84px Liberation Serif, serif', fill: '#000', textAlign: 'left', textVerticalAlign: 'middle'}},
    {type: 'text', z: 30, x: 54, y: 1266, style: {text: 'C', font: '84px Liberation Serif, serif', fill: '#000', textAlign: 'left', textVerticalAlign: 'middle'}},
    {type: 'text', z: 30, x: 1415, y: 297, style: {text: 'Count', font: '24px DejaVu Sans, sans-serif', fill: '#000', textAlign: 'left', textVerticalAlign: 'middle'}},
    {type: 'text', z: 30, x: 1415, y: 703, style: {text: 'qvalue', font: '24px DejaVu Sans, sans-serif', fill: '#000', textAlign: 'left', textVerticalAlign: 'middle'}},
    {type: 'text', z: 30, x: 3319, y: 1479, style: {text: 'qvalue', font: '62px Liberation Sans, sans-serif', fill: '#000', textAlign: 'left', textVerticalAlign: 'middle'}},
    {type: 'text', z: 30, x: 3178, y: 647, rotation: -Math.PI / 2, style: {text: facetNames[0], font: '56px Liberation Sans, sans-serif', fill: '#1A1A1A', textAlign: 'center', textVerticalAlign: 'middle'}},
    {type: 'text', z: 30, x: 3178, y: 1820, rotation: -Math.PI / 2, style: {text: facetNames[1], font: '56px Liberation Sans, sans-serif', fill: '#1A1A1A', textAlign: 'center', textVerticalAlign: 'middle'}},
    {type: 'text', z: 30, x: 158, y: 1316, style: {text: 'Enriched in high risk group', font: '28px Liberation Sans, sans-serif', fill: '#000', textAlign: 'left', textVerticalAlign: 'middle'}}
  ]}
};

const chart = echarts.init(document.getElementById('c'), null, {renderer: 'canvas', width: 4018, height: 2414, devicePixelRatio: 1});
chart.setOption(option);
</script>
</body></html>
